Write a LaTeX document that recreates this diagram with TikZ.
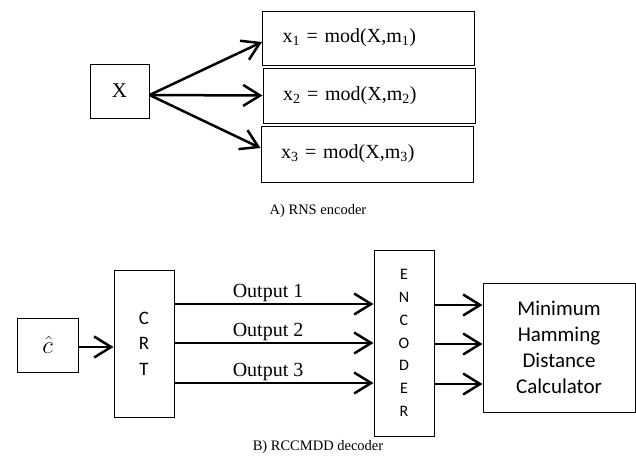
\documentclass[tikz,border=0pt]{standalone}
\usepackage{fontspec}
\setmainfont{Liberation Serif}
\newfontfamily\calfont{Carlito}
\usetikzlibrary{arrows.meta}
\begin{document}
\begin{tikzpicture}[x=1pt,y=-1pt,
  box/.style={draw, line width=1pt, inner sep=0pt},
  fbox/.style={box, inner xsep=20pt, text width=172pt, align=left, font=\fontsize{20}{24}\selectfont},
  arr/.style={line width=2.5pt, -{Straight Barb[length=17pt,width=21pt,line width=2.5pt]}},
  captext/.style={font=\fontsize{14.5}{17}\selectfont},
  olab/.style={font=\fontsize{20}{24}\selectfont, inner sep=1pt}
]
\useasboundingbox (0,0) rectangle (636,459);
% A) RNS encoder
\node[box, minimum width=59pt, minimum height=54pt, font=\fontsize{21}{24}\selectfont] (X) at (119.5,91) {X};
\node[fbox, minimum height=54pt] (b1) at (368.5,38) {x\textsubscript{1} = mod(X,m\textsubscript{1})};
\node[fbox, minimum height=55pt] (b2) at (369,95.5) {x\textsubscript{2} = mod(X,m\textsubscript{2})};
\node[fbox, minimum height=56pt] (b3) at (367,154) {x\textsubscript{3} = mod(X,m\textsubscript{3})};
\coordinate (xo) at ([yshift=-4pt]X.east);
\draw[arr] (xo) -- ([yshift=-4pt]b1.west);
\draw[arr] (xo) -- (b2.west);
\draw[arr] (xo) -- ([yshift=6pt]b3.west);
\node[captext] (capA) at (318,211) {A) RNS encoder};
% B) RCCMDD decoder
\node[box, minimum width=61pt, minimum height=54pt, font=\fontsize{25}{28}\selectfont] (ch) at (47.5,345) {$\hat{c}$};
\node[box, minimum width=60pt, minimum height=147pt, align=center, font=\calfont\fontsize{19}{25.5}\selectfont] (crt) at (144,343.5) {C\\R\\T};
\node[box, minimum width=60pt, minimum height=186pt, align=center, font=\calfont\fontsize{16}{22.8}\selectfont] (enc) at (404,343) {E\\N\\C\\O\\D\\E\\R};
\node[box, minimum width=152pt, minimum height=129pt, align=center, font=\calfont\fontsize{21}{26}\selectfont] (mhd) at (559,347.5) {Minimum\\Hamming\\Distance\\Calculator};
\draw[arr] ([yshift=-2pt]ch.east) -- ([yshift=-2pt]ch.east -| crt.west);
\draw[arr] (crt.east |- 0,304) -- node[olab, above, pos=0.47] (o1) {Output 1} (enc.west |- 0,304);
\draw[arr] (crt.east |- 0,343) -- node[olab, above, pos=0.47] (o2) {Output 2} (enc.west |- 0,343);
\draw[arr] (crt.east |- 0,383) -- node[olab, above, pos=0.47] (o3) {Output 3} (enc.west |- 0,383);
\draw[arr] (enc.east |- 0,305) -- (mhd.west |- 0,305);
\draw[arr] (enc.east |- 0,344) -- (mhd.west |- 0,344);
\draw[arr] (enc.east |- 0,384) -- (mhd.west |- 0,384);
\node[captext] (capB) at (318,447) {B) RCCMDD decoder};
\end{tikzpicture}
\end{document}
